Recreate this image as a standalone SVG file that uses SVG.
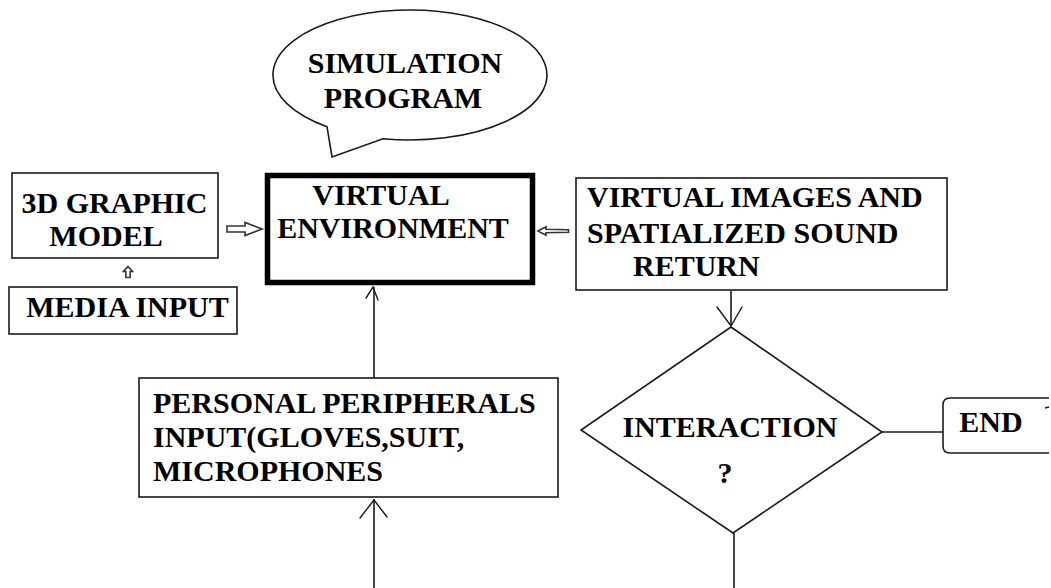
<svg xmlns="http://www.w3.org/2000/svg" width="1051" height="588" viewBox="0 0 1051 588">
  <style>
    .box { fill: #fff; stroke: #1a1a1a; stroke-width: 1.6; }
    .thick { fill: #fff; stroke: #000; stroke-width: 5.5; }
    text { font-weight: bold; font-size: 30px; fill: #000; }
    .wire { fill: none; stroke: #1a1a1a; stroke-width: 1.6; }
    .head { fill: none; stroke: #1a1a1a; stroke-width: 1.4; stroke-linecap: round; }
    .hollow { fill: #fff; stroke: #333; stroke-width: 1.6; stroke-linejoin: miter; }
  </style>

  <rect x="0" y="0" width="1051" height="588" fill="#fff"/>

  <!-- connectors -->
  <g id="connectors">
    <!-- 3D model => virtual environment -->
    <polygon class="hollow" points="227,226 245,226 245,222.5 262,229 245,235.5 245,232 227,232"/>
    <!-- media input => 3D model -->
    <polygon class="hollow" points="128,266.5 132.5,271.5 130.2,271.5 130.2,277.5 125.8,277.5 125.8,271.5 123.5,271.5"/>
    <!-- virtual environment => images/sound -->
    <polygon class="hollow" points="538,231 546,226.8 546,229.2 568.5,229.7 568.5,232.3 546,232.8 546,235.2"/>
    <!-- images/sound -> interaction -->
    <line class="wire" x1="731" y1="291" x2="731" y2="326"/>
    <polyline class="head" points="717,307 731,326 742,307"/>
    <!-- interaction -> end -->
    <line class="wire" x1="882" y1="432" x2="943" y2="432"/>
    <!-- interaction loop back -->
    <line class="wire" x1="734" y1="533" x2="734" y2="588"/>
    <!-- feedback -> peripherals -->
    <line class="wire" x1="374" y1="588" x2="374" y2="499"/>
    <polyline class="head" points="360,518 374,500 387,517"/>
    <!-- peripherals -> virtual environment -->
    <line class="wire" x1="374" y1="378" x2="374" y2="287"/>
    <polyline class="head" points="366,298 373,287 378,300"/>
  </g>

  <g font-family="'Liberation Serif', 'DejaVu Serif', serif">
    <!-- speech bubble -->
    <g id="simulation-program">
      <path class="box" d="M 327,126.7 A 137 65 0 1 1 383,138.7 L 332,157 Z"/>
      <text x="405" y="73" text-anchor="middle">SIMULATION</text>
      <text x="403" y="108" text-anchor="middle">PROGRAM</text>
    </g>

    <g id="graphic-model">
      <rect class="box" x="12" y="173" width="206" height="85"/>
      <text x="114.5" y="213" text-anchor="middle">3D GRAPHIC</text>
      <text x="106" y="246" text-anchor="middle">MODEL</text>
    </g>

    <g id="media-input">
      <rect class="box" x="9" y="287" width="228" height="47"/>
      <text x="127.5" y="317" text-anchor="middle">MEDIA INPUT</text>
    </g>

    <g id="virtual-environment">
      <rect class="thick" x="267.5" y="175.5" width="265" height="107"/>
      <text x="381" y="205" text-anchor="middle">VIRTUAL</text>
      <text x="393" y="238" text-anchor="middle">ENVIRONMENT</text>
    </g>

    <g id="images-sound">
      <rect class="box" x="576" y="178" width="371" height="112"/>
      <text x="587" y="207">VIRTUAL IMAGES AND</text>
      <text x="587" y="243">SPATIALIZED SOUND</text>
      <text x="633" y="276">RETURN</text>
    </g>

    <g id="interaction">
      <polygon class="box" points="731,327 882,432 733,533 581,430"/>
      <text x="730" y="437" text-anchor="middle">INTERACTION</text>
      <text x="725" y="483" text-anchor="middle">?</text>
    </g>

    <g id="end">
      <path class="box" d="M 1049,398 L 950,398 Q 943,398 943,405 L 943,446 Q 943,453 950,453 L 1049,453"/>
      <path class="wire" d="M 1045,408 L 1049,407"/>
      <text x="991" y="432" text-anchor="middle">END</text>
    </g>

    <g id="peripherals">
      <rect class="box" x="139" y="378" width="419" height="119"/>
      <text x="153" y="413">PERSONAL PERIPHERALS</text>
      <text x="153" y="447">INPUT(GLOVES,SUIT,</text>
      <text x="153" y="481">MICROPHONES</text>
    </g>
  </g>
</svg>
